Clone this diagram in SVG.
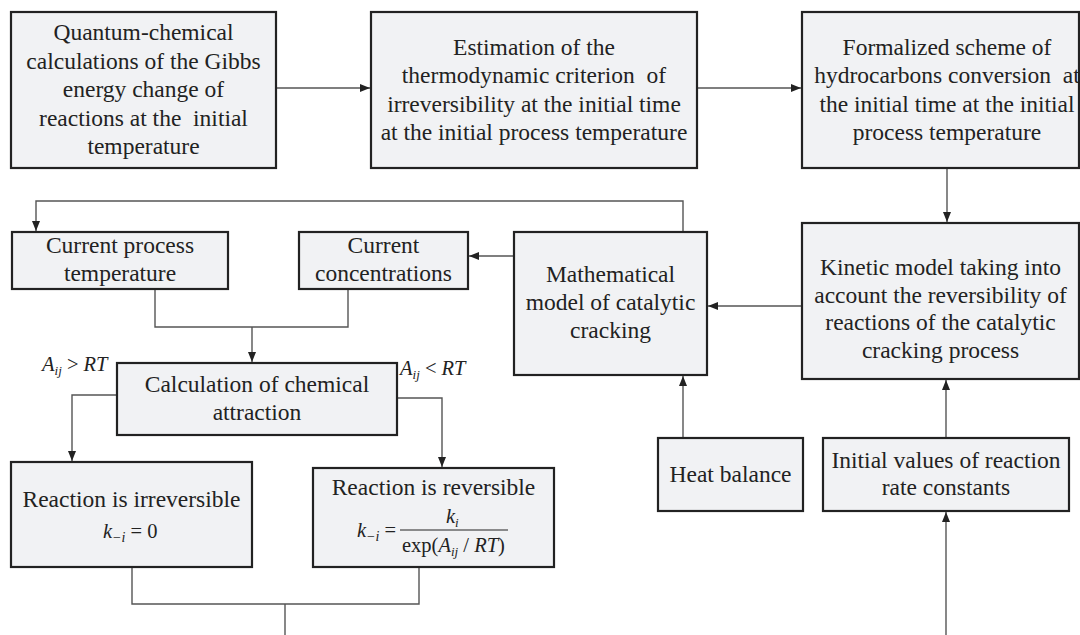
<svg xmlns="http://www.w3.org/2000/svg" width="1080" height="635" viewBox="0 0 1080 635">
<style>
.box{fill:#f1f2f4;stroke:#222;stroke-width:2.2}
.t{font-family:"Liberation Serif","Times New Roman",serif;font-size:23.5px;fill:#222;text-anchor:middle;white-space:pre}
.m{font-family:"Liberation Serif","Times New Roman",serif;font-size:20.5px;fill:#222;font-style:italic}
.c{fill:none;stroke:#555;stroke-width:1.4}
</style>
<defs>
<marker id="ah" markerUnits="userSpaceOnUse" markerWidth="11" markerHeight="9" refX="10" refY="4" orient="auto">
<path d="M0,0 L10,4 L0,8 z" fill="#222"/>
</marker>
</defs>
<rect width="1080" height="635" fill="#fff"/>
<g id="connectors">
<path class="c" d="M276,88 H370" marker-end="url(#ah)"/>
<path class="c" d="M697,88 H801" marker-end="url(#ah)"/>
<path class="c" d="M947,168 V222" marker-end="url(#ah)"/>
<path class="c" d="M802,306 H708" marker-end="url(#ah)"/>
<path class="c" d="M514,256 H469" marker-end="url(#ah)"/>
<path class="c" d="M683,232 V201 H36 V231" marker-end="url(#ah)"/>
<path class="c" d="M155,289 V327 H348 V289"/>
<path class="c" d="M252,327 V362" marker-end="url(#ah)"/>
<path class="c" d="M117,395 H72 V461" marker-end="url(#ah)"/>
<path class="c" d="M397,398 H442 V467" marker-end="url(#ah)"/>
<path class="c" d="M132,567 V604 H419 V567"/>
<path class="c" d="M285,604 V635"/>
<path class="c" d="M683,438 V376" marker-end="url(#ah)"/>
<path class="c" d="M946,438 V380" marker-end="url(#ah)"/>
<path class="c" d="M946,635 V512" marker-end="url(#ah)"/>
</g>
<g id="n1">
<rect class="box" x="11" y="12" width="265" height="156"/>
<text class="t" x="143.5" y="40">Quantum-chemical</text>
<text class="t" x="143.5" y="68.5">calculations of the Gibbs</text>
<text class="t" x="143.5" y="97">energy change of</text>
<text class="t" x="143.5" y="125.5">reactions at the  initial</text>
<text class="t" x="143.5" y="154">temperature</text>
</g>
<g id="n2">
<rect class="box" x="371" y="12" width="326" height="156"/>
<text class="t" x="534" y="55">Estimation of the</text>
<text class="t" x="534" y="83">thermodynamic criterion  of</text>
<text class="t" x="534" y="111.5">irreversibility at the initial time</text>
<text class="t" x="534" y="139.5">at the initial process temperature</text>
</g>
<g id="n3">
<rect class="box" x="802" y="12" width="277" height="156"/>
<text class="t" x="947" y="55">Formalized scheme of</text>
<text class="t" x="947" y="83">hydrocarbons conversion  at</text>
<text class="t" x="947" y="111.5">the initial time at the initial</text>
<text class="t" x="947" y="139.5">process temperature</text>
</g>
<g id="n4">
<rect class="box" x="802" y="223" width="277" height="156"/>
<text class="t" x="940.5" y="275">Kinetic model taking into</text>
<text class="t" x="940.5" y="302.5">account the reversibility of</text>
<text class="t" x="940.5" y="330">reactions of the catalytic</text>
<text class="t" x="940.5" y="357.5">cracking process</text>
</g>
<g id="n5">
<rect class="box" x="514" y="232" width="193" height="143"/>
<text class="t" x="610.5" y="282">Mathematical</text>
<text class="t" x="610.5" y="310">model of catalytic</text>
<text class="t" x="610.5" y="338">cracking</text>
</g>
<g id="n6">
<rect class="box" x="12" y="232" width="216" height="57"/>
<text class="t" x="120" y="253">Current process</text>
<text class="t" x="120" y="281">temperature</text>
</g>
<g id="n7">
<rect class="box" x="299" y="232" width="169" height="57"/>
<text class="t" x="383.5" y="253">Current</text>
<text class="t" x="383.5" y="281">concentrations</text>
</g>
<g id="n8">
<rect class="box" x="117" y="363" width="280" height="72"/>
<text class="t" x="257" y="392">Calculation of chemical</text>
<text class="t" x="257" y="420">attraction</text>
</g>
<g id="labels">
<text class="m" x="42" y="371">A<tspan font-size="13" dy="4">ij</tspan><tspan font-style="normal" dy="-4"> &gt; </tspan>RT</text>
<text class="m" x="400" y="375">A<tspan font-size="13" dy="4">ij</tspan><tspan font-style="normal" dy="-4"> &lt; </tspan>RT</text>
</g>
<g id="n9">
<rect class="box" x="11" y="462" width="241" height="105"/>
<text class="t" x="131.5" y="507">Reaction is irreversible</text>
<text class="m" x="103" y="538">k<tspan font-size="14" dy="4">−i</tspan><tspan font-style="normal" dy="-4"> = 0</tspan></text>
</g>
<g id="n10">
<rect class="box" x="313" y="468" width="241" height="99"/>
<text class="t" x="433.5" y="495">Reaction is reversible</text>
<text class="m" x="357" y="537">k<tspan font-size="14" dy="4">−i</tspan><tspan font-style="normal" dy="-4"> =</tspan></text>
<text class="m" x="446" y="523">k<tspan font-size="13" dy="4">i</tspan></text>
<line x1="400" y1="530" x2="508" y2="530" stroke="#222" stroke-width="1"/>
<text class="m" x="402" y="552"><tspan font-style="normal">exp(</tspan>A<tspan font-size="13" dy="4">ij</tspan><tspan font-style="normal" dy="-4"> / </tspan>RT<tspan font-style="normal">)</tspan></text>
</g>
<g id="n11">
<rect class="box" x="658" y="438" width="145" height="73"/>
<text class="t" x="730.5" y="482">Heat balance</text>
</g>
<g id="n12">
<rect class="box" x="823" y="438" width="246" height="73"/>
<text class="t" x="946" y="468">Initial values of reaction</text>
<text class="t" x="946" y="495">rate constants</text>
</g>
</svg>
